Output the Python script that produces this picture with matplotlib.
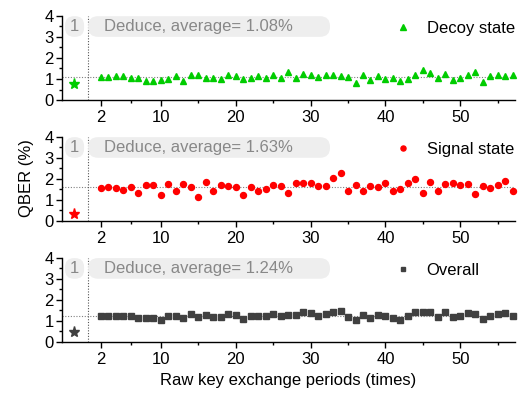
import matplotlib
matplotlib.use('Agg')
import matplotlib.pyplot as plt
from matplotlib.patches import FancyBboxPatch
from matplotlib.ticker import FixedLocator, MultipleLocator

plt.rcParams['font.family'] = ['Liberation Sans', 'DejaVu Sans']

periods = list(range(2, 58))
decoy = [1.10, 1.10, 1.14, 1.15, 1.07, 1.04, 0.90, 0.90, 0.96, 1.00,
         1.14, 0.92, 1.17, 1.20, 1.06, 1.06, 1.00, 1.18, 1.12, 1.01,
         1.06, 1.14, 1.03, 1.17, 1.04, 1.31, 1.07, 1.22, 1.17, 1.09,
         1.18, 1.20, 1.14, 1.09, 0.79, 1.17, 0.93, 1.12, 0.98, 1.04,
         0.90, 1.00, 1.20, 1.41, 1.28, 1.07, 1.26, 0.96, 1.07, 1.20,
         1.31, 0.88, 1.12, 1.17, 1.14, 1.18]
signal = [1.55, 1.63, 1.55, 1.49, 1.63, 1.31, 1.72, 1.71, 1.22, 1.75,
          1.41, 1.74, 1.61, 1.15, 1.87, 1.42, 1.69, 1.64, 1.61, 1.25,
          1.63, 1.42, 1.54, 1.71, 1.64, 1.33, 1.82, 1.80, 1.80, 1.64,
          1.64, 2.02, 2.29, 1.42, 1.71, 1.44, 1.66, 1.60, 1.80, 1.44,
          1.50, 1.79, 1.99, 1.34, 1.85, 1.41, 1.74, 1.79, 1.71, 1.75,
          1.28, 1.66, 1.55, 1.71, 1.88, 1.41]
overall = [1.24, 1.25, 1.25, 1.25, 1.24, 1.13, 1.14, 1.16, 1.06, 1.22,
           1.24, 1.14, 1.32, 1.19, 1.29, 1.19, 1.19, 1.33, 1.27, 1.10,
           1.24, 1.24, 1.21, 1.35, 1.24, 1.30, 1.30, 1.40, 1.38, 1.25,
           1.35, 1.43, 1.46, 1.19, 1.05, 1.27, 1.14, 1.27, 1.22, 1.16,
           1.06, 1.22, 1.43, 1.40, 1.43, 1.17, 1.40, 1.17, 1.25, 1.37,
           1.32, 1.11, 1.24, 1.35, 1.37, 1.24]

first_x = -1.6
first_values = [0.76, 0.33, 0.49]
averages = [1.08, 1.63, 1.24]
series_names = ['Decoy state', 'Signal state', 'Overall']
first_label = '1'
xticks = [2, 10, 20, 30, 40, 50]
xminor = [6, 15, 25, 35, 45, 55]
yticks = [0, 1, 2, 3, 4]

series = [decoy, signal, overall]
colors = ['#00cc00', '#ff0000', '#404040']
markers = ['^', 'o', 's']
msizes = [4.6, 4.3, 3.8]

fig = plt.figure(figsize=(5.26, 3.94), dpi=100)
bottoms = [0.746, 0.439, 0.132]
ax_w = 0.861
ax_h = 0.214
ax_l = 0.118
W_px = 526 * ax_w
H_px = 394 * ax_h

for i in range(3):
    ax = fig.add_axes([ax_l, bottoms[i], ax_w, ax_h])
    ax.set_xlim(-3.2, 57.3)
    ax.set_ylim(0, 4)
    for s in ['top', 'right']:
        ax.spines[s].set_visible(False)
    ax.spines['left'].set_linewidth(1.0)
    ax.spines['bottom'].set_linewidth(1.0)
    ax.set_xticks(xticks)
    ax.xaxis.set_minor_locator(FixedLocator(xminor))
    ax.set_yticks(yticks)
    ax.yaxis.set_minor_locator(MultipleLocator(0.5))
    ax.tick_params(axis='both', which='major', direction='out', length=4,
                   width=1, labelsize=12, pad=3)
    ax.tick_params(axis='both', which='minor', direction='out', length=2.5,
                   width=1)
    ax.tick_params(axis='y', which='major', pad=2)

    ax.axhline(averages[i], color='#808080', lw=0.8, ls=(0, (1, 1.5)), zorder=1)
    ax.axvline(0.25, color='#555555', lw=0.8, ls=(0, (1, 1.5)), zorder=1)

    ax.plot(periods, series[i], ls='none', marker=markers[i], ms=msizes[i],
            color=colors[i], mec=colors[i], label=series_names[i], zorder=3,
            clip_on=False)
    ax.plot([first_x], [first_values[i]], ls='none', marker='*', ms=8,
            color=colors[i], zorder=3)

    # rounded label boxes
    mut_aspect = W_px / H_px
    bx_y0 = 0.75
    bx_h = 0.245
    r = 10.0 / W_px
    box1 = FancyBboxPatch((0.0066, bx_y0), 0.042, bx_h,
                          boxstyle='round,pad=0,rounding_size=%f' % (9.0 / W_px),
                          mutation_aspect=mut_aspect, transform=ax.transAxes,
                          fc='#eeeeee', ec='none', zorder=2, clip_on=False)
    ax.add_patch(box1)
    box2 = FancyBboxPatch((0.0574, bx_y0), 0.5342, bx_h,
                          boxstyle='round,pad=0,rounding_size=%f' % r,
                          mutation_aspect=mut_aspect, transform=ax.transAxes,
                          fc='#eeeeee', ec='none', zorder=2, clip_on=False)
    ax.add_patch(box2)
    ax.text(0.0276, bx_y0 + bx_h / 2, first_label, transform=ax.transAxes,
            ha='center', va='center', fontsize=12, color='#888888', zorder=4)
    ax.text(0.093, bx_y0 + bx_h / 2,
            'Deduce, average= %.2f%%' % averages[i], transform=ax.transAxes,
            ha='left', va='center', fontsize=12, color='#888888', zorder=4)

    ax.legend(loc='upper left', bbox_to_anchor=((395 - 62) / W_px, 0.94),
              frameon=False, handlelength=1.0, handletextpad=0.9,
              borderaxespad=0, borderpad=0, fontsize=12, numpoints=1,
              markerscale=0.85)

fig.text(27 / 526, 1 - 178 / 394, 'QBER (%)', rotation=90, ha='center',
         va='center', fontsize=12)
fig.text(288 / 526, 1 - 380 / 394, 'Raw key exchange periods (times)',
         ha='center', va='center', fontsize=12)

fig.savefig('out.png', dpi=100)
